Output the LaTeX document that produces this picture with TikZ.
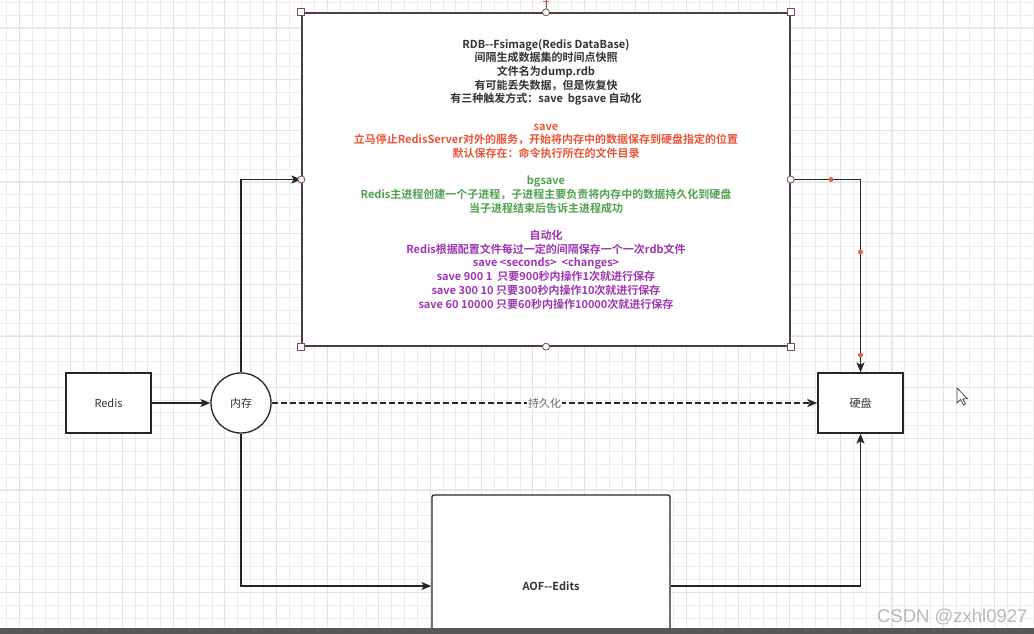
\documentclass[tikz,border=0pt]{standalone}
\usepackage{fontspec}
\setmainfont{Noto Sans CJK SC}[BoldFont={Noto Sans CJK SC Bold}]
\newfontfamily\wmfont{Liberation Sans}
\usetikzlibrary{arrows.meta}
\definecolor{txtgray}{RGB}{51,51,51}
\definecolor{savered}{RGB}{232,86,56}
\definecolor{bggreen}{RGB}{80,162,80}
\definecolor{autopurple}{RGB}{158,54,178}
\definecolor{selbrown}{RGB}{120,80,80}
\definecolor{selborder}{RGB}{78,62,62}
\definecolor{dotred}{RGB}{226,98,82}

\begin{document}
\begin{tikzpicture}[x=1pt, y=-1pt, >={Stealth[length=10pt,width=8pt,inset=2.5pt]},
  every node/.style={font=\fontsize{11}{13.68}\selectfont, text=txtgray},
  gridline/.style={draw=black!7, line width=0.8pt},
  gridmajor/.style={draw=black!11, line width=0.9pt},
  box/.style={draw=black!85, line width=1.3pt, fill=white, minimum width=85, minimum height=60},
  conn/.style={draw=black!85, line width=1.4pt, ->},
  handlesq/.style={draw=selbrown, fill=white, line width=0.8pt},
  handledot/.style={fill=dotred}]
  \useasboundingbox (0,0) rectangle (1034,634);
  \clip (0,0) rectangle (1034,634);
  % background grid
  \foreach \i in {0,...,80} \draw[gridline] ({6.7+12.83*\i},0) -- ({6.7+12.83*\i},634);
  \foreach \j in {0,...,49} \draw[gridline] (0,{2.2+12.83*\j}) -- (1034,{2.2+12.83*\j});
  \foreach \i in {0,...,19} \draw[gridmajor] ({19.5+51.32*\i},0) -- ({19.5+51.32*\i},634);
  \foreach \j in {0,...,12} \draw[gridmajor] (0,{28.3+51.32*\j}) -- (1034,{28.3+51.32*\j});

  \node[box] (redis) at (108.5,403) {Redis};
  \node[box, circle, minimum size=60] (mem) at (241,403) {内存};
  \node[box] (disk) at (860.5,403) {硬盘};
  \node[box, rounded corners=2pt, minimum width=238, minimum height=182,
    font=\fontsize{11}{13}\selectfont\bfseries] (aof) at (551,586) {AOF{-}{-}Edits};
  \node[box, draw=selborder, minimum width=488, minimum height=333] (rdb) at (546,179.5) {};
  \node[align=center, font=\fontsize{11}{13.68}\selectfont\bfseries] (rdbtext) at (546,174) {%
    RDB{-}{-}Fsimage(Redis DataBase)\\
    间隔生成数据集的时间点快照\\
    文件名为dump.rdb\\
    有可能丢失数据，但是恢复快\\
    有三种触发方式：save\ \ bgsave 自动化\\ \mbox{}\\
    \textcolor{savered}{save}\\
    \textcolor{savered}{立马停止RedisServer对外的服务，开始将内存中的数据保存到硬盘指定的位置}\\
    \textcolor{savered}{默认保存在：命令执行所在的文件目录}\\ \mbox{}\\
    \textcolor{bggreen}{bgsave}\\
    \textcolor{bggreen}{Redis主进程创建一个子进程，子进程主要负责将内存中的数据持久化到硬盘}\\
    \textcolor{bggreen}{当子进程结束后告诉主进程成功}\\ \mbox{}\\
    \textcolor{autopurple}{自动化}\\
    \textcolor{autopurple}{Redis根据配置文件每过一定的间隔保存一个一次rdb文件}\\
    \textcolor{autopurple}{save <seconds>\ \ <changes>}\\
    \textcolor{autopurple}{save 900 1\ \ 只要900秒内操作1次就进行保存}\\
    \textcolor{autopurple}{save 300 10 只要300秒内操作10次就进行保存}\\
    \textcolor{autopurple}{save 60 10000 只要60秒内操作10000次就进行保存}};

  % connectors
  \draw[conn] (redis) -- (mem);
  \draw[conn, dash pattern=on 6pt off 3pt, line width=1.8pt] (mem) -- node[fill=white, inner sep=1pt, text=black!60] (persist) {持久化} (disk);
  \draw[conn] (mem.north) |- (rdb.west);
  \draw[conn] (rdb.east) -| (disk.north);
  \draw[conn] (mem.south) |- (aof.west);
  \draw[conn] (aof.east) -| (disk.south);

  % selection handles
  \draw[selbrown, line width=1pt] (rdb.north) -- (546,0);
  \draw[dotred, line width=1.2pt] (543,1.5) -- (549,1.5);
  \foreach \p in {north west, north east, south west, south east}
    \draw[handlesq] (rdb.\p) ++(-3.5,-3.5) rectangle ++(7,7);
  \foreach \p in {north, south, west, east}
    \draw[handlesq] (rdb.\p) circle[radius=3.5];
  \fill[handledot] (831,179.5) circle[radius=2.5];
  \fill[handledot] (860.5,252) circle[radius=2.5];
  \fill[handledot] (860.5,355) circle[radius=2.5];

  % mouse pointer
  \draw[black!70, fill=white, line width=0.8pt] (957,388) -- (957,403) -- (960.5,399.5) -- (963.5,405) -- (965.5,404) -- (962.8,398.8) -- (967.5,398.8) -- cycle;

  \node[font=\wmfont\fontsize{18.5}{20}\selectfont, text=black!28, anchor=east] (wm) at (1031,617) {CSDN @zxhl0927};
  \fill[black!66] (0,627.5) rectangle (1034,634);
\end{tikzpicture}
\end{document}
